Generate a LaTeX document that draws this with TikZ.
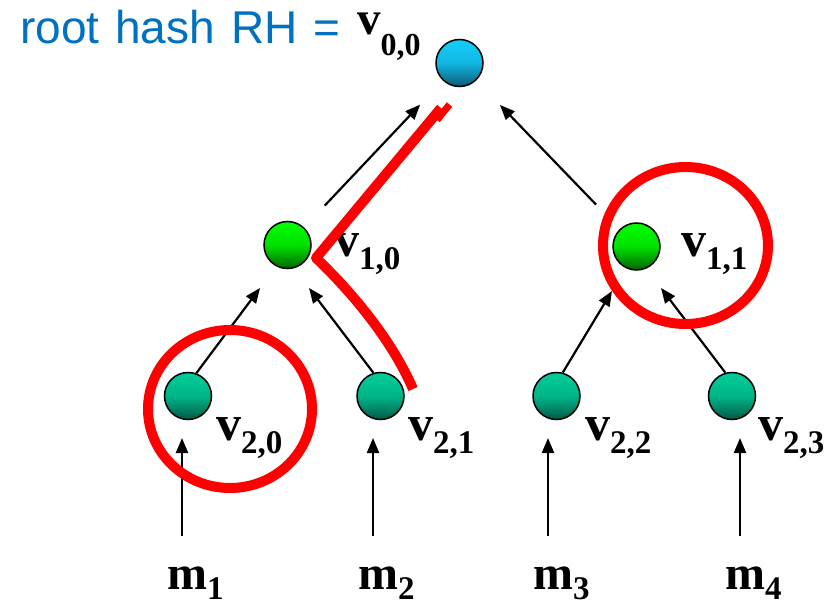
\documentclass[tikz,border=0pt]{standalone}
\usepackage{fontspec}
\setmainfont{Liberation Serif}
\newfontfamily\arialfont{Liberation Sans}
\usetikzlibrary{arrows.meta}
\definecolor{titleblue}{HTML}{0070C0}
\definecolor{cyanA}{RGB}{20,205,250}
\definecolor{cyanB}{RGB}{10,90,120}
\definecolor{greenA}{RGB}{0,255,0}
\definecolor{greenB}{RGB}{0,100,0}
\definecolor{tealA}{RGB}{0,204,153}
\definecolor{tealB}{RGB}{0,90,70}
\definecolor{markred}{RGB}{255,0,0}
\newcommand\vtxt[4]{\fontsize{#1}{#1}\selectfont v\raisebox{-#3}{\fontsize{#2}{#2}\selectfont #4}}
\newcommand\mtxt[1]{\fontsize{48}{48}\selectfont m\raisebox{-10pt}{\fontsize{33}{33}\selectfont #1}}
\begin{document}
\begin{tikzpicture}[x=1pt,y=-1pt,
  hashnode/.style={circle, draw=black, line width=1.5pt, minimum size=47pt, inner sep=0pt},
  rootnode/.style={hashnode, top color=cyanA, bottom color=cyanB, middle color=cyanA!80!cyanB},
  midnode/.style={hashnode, top color=greenA, bottom color=greenB, middle color=greenA!80!greenB},
  leafnode/.style={hashnode, top color=tealA, bottom color=tealB, middle color=tealA!80!tealB},
  vlab/.style={anchor=base west, inner sep=0pt, font=\bfseries},
  arr/.style={line width=2.2pt, -{Triangle[length=15pt,width=12pt]}},
  redmark/.style={draw=markred, line width=10pt, line join=round}
]
\useasboundingbox (0,0) rectangle (836,604);

% title
\node[anchor=base west, inner sep=0pt, text=titleblue,
      font=\arialfont\fontsize{46}{46}\selectfont] (title) at (20,44)
      {\spaceskip=16pt root hash RH =};

% hash nodes
\node[rootnode] (v00) at (459.5,63) {};
\node[midnode]  (v10) at (287.5,245) {};
\node[midnode]  (v11) at (636.5,246.5) {};
\node[leafnode] (v20) at (188,396) {};
\node[leafnode] (v21) at (380.5,396) {};
\node[leafnode] (v22) at (556.5,396) {};
\node[leafnode] (v23) at (732,396) {};

% labels
\node[vlab] (l00) at (357,35)  {\vtxt{47}{32}{21pt}{0,0}};
\node[vlab] (l10) at (334,257) {\vtxt{50}{33}{13pt}{1,0}};
\node[vlab] (l11) at (681,257) {\vtxt{50}{33}{13pt}{1,1}};
\node[vlab] (l20) at (216,440) {\vtxt{50}{33}{13pt}{2,0}};
\node[vlab] (l21) at (408,440) {\vtxt{50}{33}{13pt}{2,1}};
\node[vlab] (l22) at (585,440) {\vtxt{50}{33}{13pt}{2,2}};
\node[vlab] (l23) at (758,440) {\vtxt{50}{33}{13pt}{2,3}};

% messages
\node[vlab] (m1) at (167,589) {\mtxt{1}};
\node[vlab] (m2) at (358,589) {\mtxt{2}};
\node[vlab] (m3) at (533,589) {\mtxt{3}};
\node[vlab] (m4) at (725,589) {\mtxt{4}};

% arrow end points
\coordinate (mt1) at (182,536); \coordinate (mh1) at (182,438);
\coordinate (mt2) at (373,536); \coordinate (mh2) at (373,438);
\coordinate (mt3) at (548,536); \coordinate (mh3) at (548,438);
\coordinate (mt4) at (740,536); \coordinate (mh4) at (740,438);
\coordinate (h20) at (260,288);
\coordinate (h21) at (309,288);
\coordinate (h22) at (612,291);
\coordinate (h23) at (661,288);

% connectors
\draw[arr] (mt1) -- (mh1);
\draw[arr] (mt2) -- (mh2);
\draw[arr] (mt3) -- (mh3);
\draw[arr] (mt4) -- (mh4);
\draw[arr] (v20.70) -- (h20);
\draw[arr] (v21.107) -- (h21);
\draw[arr] (v22.75) -- (h22);
\draw[arr] (v23.106) -- (h23);
\draw[arr, shorten <=30pt, shorten >=33pt] (v10) -- (v00);
\draw[arr, shorten <=34pt, shorten >=34pt] (v11) -- (v00);

% red annotations
\draw[redmark] (230,409) ellipse [x radius=82pt, y radius=79pt];
\draw[redmark] (685.5,245.5) ellipse [x radius=82.5pt, y radius=78.5pt];
\draw[redmark] (413,389) .. controls (395,347) and (360,300) .. (316,258) -- (441,108);
\draw[draw=markred, line width=7pt] (437,120) -- (449.5,104.5);
\end{tikzpicture}
\end{document}
